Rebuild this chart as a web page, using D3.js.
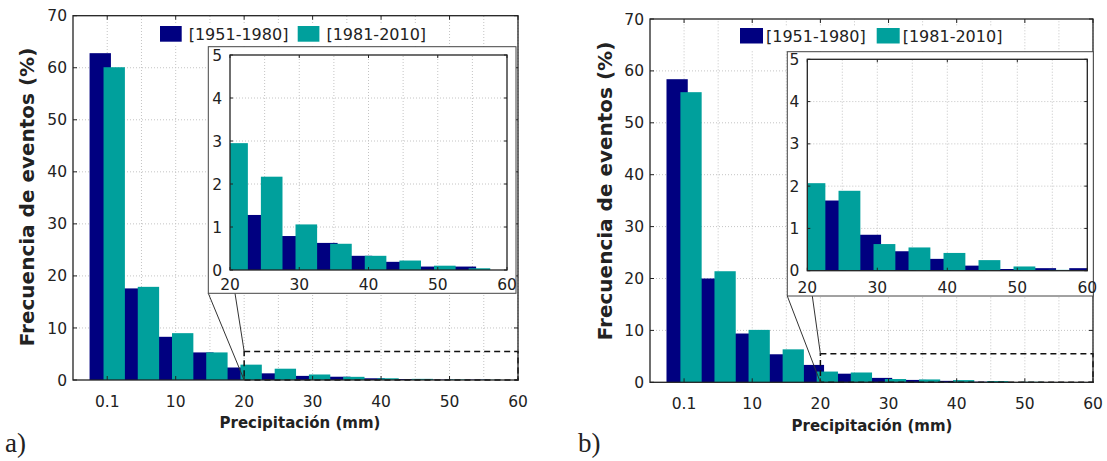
<!DOCTYPE html>
<html>
<head>
<meta charset="utf-8">
<script src="https://cdn.jsdelivr.net/npm/d3@7"></script>
<style>
  body { margin: 0; background: #fff; }
  text { font-family: "DejaVu Sans", sans-serif; fill: #222; }
</style>
</head>
<body>
<svg id="fig" width="1107" height="461"></svg>
<script>
// Bin centres (mm) of the daily precipitation histogram
const bins = [0, 5, 10, 15, 20, 25, 30, 35, 40, 45, 50, 55, 60];

// Event frequency (%) per bin, panel a
const freqA_1951_1980 = [62.8, 17.6, 8.3, 5.3, 2.4, 1.28, 0.79, 0.63, 0.33, 0.19, 0.08, 0.08, 0];
const freqA_1981_2010 = [60.1, 17.9, 9.0, 5.3, 2.95, 2.17, 1.06, 0.61, 0.33, 0.22, 0.10, 0.04, 0];

// Event frequency (%) per bin, panel b
const freqB_1951_1980 = [58.4, 20.0, 9.4, 5.4, 3.35, 1.66, 0.85, 0.46, 0.28, 0.12, 0.04, 0.06, 0.06];
const freqB_1981_2010 = [55.9, 21.4, 10.1, 6.35, 2.07, 1.89, 0.63, 0.55, 0.42, 0.25, 0.10, 0.02, 0];

const seriesNames = ["[1951-1980]", "[1981-2010]"];
const seriesColors = ["#000080", "#00a09c"];

const mainXTicks = [0, 10, 20, 30, 40, 50, 60];
const mainXTickLabels = ["0.1", "10", "20", "30", "40", "50", "60"];
const mainYTicks = [0, 10, 20, 30, 40, 50, 60, 70];
const insetXTicks = [20, 30, 40, 50, 60];
const insetYTicks = [0, 1, 2, 3, 4, 5];
const zoomBox = { x0: 20, x1: 60, y0: 0, y1: 5.5 };

const yTitle = "Frecuencia de eventos (%)";
const xTitle = "Precipitación (mm)";

// Page layout of the two panels
const panels = [
  {
    label: "a)", series: [freqA_1951_1980, freqA_1981_2010],
    main: { l: 73, r: 518, t: 15.7, b: 380 },
    inset: { fl: 208.3, fr: 516, ft: 46.7, fb: 293.3, l: 230, r: 507, t: 55, b: 270 },
    legend: { x: 160, y: 26, w: 21.7, h: 15.7, gapText: 7, second: 297.7, bg: [155, 23, 278, 23] },
    yTitlePos: [27, 197], xTitlePos: [300, 428], labelPos: [5, 452]
  },
  {
    label: "b)", series: [freqB_1951_1980, freqB_1981_2010],
    main: { l: 650, r: 1093, t: 19, b: 382.3 },
    inset: { fl: 787.3, fr: 1093.3, ft: 51.7, fb: 296, l: 807.3, r: 1087.3, t: 59.3, b: 270.7 },
    legend: { x: 740, y: 28, w: 23, h: 15.5, gapText: 3, second: 876.7, bg: [735, 26, 272, 25] },
    yTitlePos: [605, 191], xTitlePos: [872, 431], labelPos: [578, 452]
  }
];

// Grouped bars: each series is offset from the bin centre and overlaps its neighbour
const barWidth = 3.12;
const barOffsets = [-1.02, 1.02];

const svg = d3.select("#fig");
const defs = svg.append("defs");

// minStart: bars whose left edge falls before this value are left out
function drawBars(g, x, y, series, clipId, minStart) {
  const bg = g.append("g").attr("clip-path", `url(#${clipId})`);
  series.forEach((vals, si) => {
    const rows = bins.map((b, i) => ({ b, v: vals[i], x0: b + barOffsets[si] - barWidth / 2 }))
      .filter(d => d.x0 >= minStart);
    bg.append("g").selectAll("rect")
      .data(rows)
      .join("rect")
      .attr("x", d => x(d.x0))
      .attr("width", d => x(d.x0 + barWidth) - x(d.x0))
      .attr("y", d => y(d.v))
      .attr("height", d => y(0) - y(d.v))
      .attr("fill", seriesColors[si]);
  });
}

function drawGrid(g, x, y, xs, ys) {
  const [x0, x1] = x.range(), [y0, y1] = y.range();
  g.append("g").selectAll("line").data(xs).join("line")
    .attr("x1", d => x(d)).attr("x2", d => x(d)).attr("y1", y0).attr("y2", y1)
    .attr("stroke", "#c4c4c4").attr("stroke-width", 1).attr("stroke-dasharray", "1,2");
  g.append("g").selectAll("line").data(ys).join("line")
    .attr("y1", d => y(d)).attr("y2", d => y(d)).attr("x1", x0).attr("x2", x1)
    .attr("stroke", "#c4c4c4").attr("stroke-width", 1).attr("stroke-dasharray", "1,2");
}

function drawFrameTicks(g, x, y, xt, yt, len) {
  const [x0, x1] = x.range(), [y0, y1] = y.range();
  const tk = g.append("g").attr("stroke", "#222").attr("stroke-width", 1);
  xt.forEach(v => {
    tk.append("line").attr("x1", x(v)).attr("x2", x(v)).attr("y1", y0).attr("y2", y0 - len);
    tk.append("line").attr("x1", x(v)).attr("x2", x(v)).attr("y1", y1).attr("y2", y1 + len);
  });
  yt.forEach(v => {
    tk.append("line").attr("y1", y(v)).attr("y2", y(v)).attr("x1", x0).attr("x2", x0 + len);
    tk.append("line").attr("y1", y(v)).attr("y2", y(v)).attr("x1", x1).attr("x2", x1 - len);
  });
  g.append("rect").attr("x", x0).attr("y", y1).attr("width", x1 - x0).attr("height", y0 - y1)
    .attr("fill", "none").attr("stroke", "#222").attr("stroke-width", 1.3);
}

panels.forEach((p, pi) => {
  const g = svg.append("g");
  const m = p.main;
  const x = d3.scaleLinear().domain([-5, 60]).range([m.l, m.r]);
  const y = d3.scaleLinear().domain([0, 70]).range([m.b, m.t]);

  const clipMain = `clip-main-${pi}`;
  defs.append("clipPath").attr("id", clipMain).append("rect")
    .attr("x", m.l).attr("y", m.t).attr("width", m.r - m.l).attr("height", m.b - m.t);

  drawGrid(g, x, y, d3.range(0, 61, 5), mainYTicks.slice(1, -1));
  drawBars(g, x, y, p.series, clipMain, -Infinity);

  // dashed zoom window
  g.append("rect")
    .attr("x", x(zoomBox.x0)).attr("y", y(zoomBox.y1))
    .attr("width", x(zoomBox.x1) - x(zoomBox.x0)).attr("height", y(zoomBox.y0) - y(zoomBox.y1))
    .attr("fill", "none").attr("stroke", "#111").attr("stroke-width", 1.5).attr("stroke-dasharray", "6,4");

  drawFrameTicks(g, x, y, mainXTicks, mainYTicks, 4);

  // tick labels
  g.append("g").selectAll("text").data(mainXTicks).join("text")
    .attr("x", d => x(d)).attr("y", m.b + 27).attr("text-anchor", "middle")
    .attr("font-size", 15.5).text((d, i) => mainXTickLabels[i]);
  g.append("g").selectAll("text").data(mainYTicks).join("text")
    .attr("x", m.l - 6).attr("y", d => y(d)).attr("dy", "0.36em").attr("text-anchor", "end")
    .attr("font-size", 15.5).text(d => d);

  // axis titles
  g.append("text")
    .attr("transform", `translate(${p.yTitlePos[0]},${p.yTitlePos[1]}) rotate(-90)`)
    .attr("text-anchor", "middle").attr("dy", "0.36em")
    .attr("font-size", 20).attr("font-weight", "bold").text(yTitle);
  g.append("text")
    .attr("x", p.xTitlePos[0]).attr("y", p.xTitlePos[1]).attr("text-anchor", "middle")
    .attr("font-size", 15).attr("font-weight", "bold").text(xTitle);

  // panel label
  g.append("text").attr("x", p.labelPos[0]).attr("y", p.labelPos[1])
    .style("font-family", "'Liberation Serif', serif").attr("font-size", 27).text(p.label);

  // connectors from the inset to the zoom window
  const ins = p.inset;
  g.append("line").attr("x1", ins.fl).attr("y1", ins.fb).attr("x2", x(zoomBox.x0)).attr("y2", y(0))
    .attr("stroke", "#333").attr("stroke-width", 1);
  g.append("line").attr("x1", ins.l + 5).attr("y1", ins.fb).attr("x2", x(zoomBox.x0)).attr("y2", y(zoomBox.y1))
    .attr("stroke", "#333").attr("stroke-width", 1);

  // inset
  const gi = g.append("g");
  gi.append("rect").attr("x", ins.fl).attr("y", ins.ft).attr("width", ins.fr - ins.fl).attr("height", ins.fb - ins.ft)
    .attr("fill", "#fff").attr("stroke", "#444").attr("stroke-width", 1);
  const xi = d3.scaleLinear().domain([20, 60]).range([ins.l, ins.r]);
  const yi = d3.scaleLinear().domain([0, 5]).range([ins.b, ins.t]);
  const clipIn = `clip-inset-${pi}`;
  defs.append("clipPath").attr("id", clipIn).append("rect")
    .attr("x", ins.l).attr("y", ins.t).attr("width", ins.r - ins.l).attr("height", ins.b - ins.t);
  drawGrid(gi, xi, yi, d3.range(25, 60, 5), insetYTicks.slice(1, -1));
  drawBars(gi, xi, yi, p.series, clipIn, 19);
  drawFrameTicks(gi, xi, yi, insetXTicks, insetYTicks, 3);
  gi.append("g").selectAll("text").data(insetXTicks).join("text")
    .attr("x", d => xi(d)).attr("y", ins.fb - 3.5).attr("text-anchor", "middle")
    .attr("font-size", 15.5).text(d => d);
  gi.append("g").selectAll("text").data(insetYTicks).join("text")
    .attr("x", ins.l - 8).attr("y", d => yi(d)).attr("dy", "0.36em").attr("text-anchor", "end")
    .attr("font-size", 15.5).text(d => d);

  // legend
  const L = p.legend;
  const gl = g.append("g");
  gl.append("rect").attr("x", L.bg[0]).attr("y", L.bg[1]).attr("width", L.bg[2]).attr("height", L.bg[3]).attr("fill", "#fff");
  [L.x, L.second].forEach((lx, si) => {
    gl.append("rect").attr("x", lx).attr("y", L.y).attr("width", L.w).attr("height", L.h).attr("fill", seriesColors[si]);
    gl.append("text").attr("x", lx + L.w + L.gapText).attr("y", L.y + L.h / 2).attr("dy", "0.36em")
      .attr("font-size", 16).text(seriesNames[si]);
  });
});
</script>
</body>
</html>
